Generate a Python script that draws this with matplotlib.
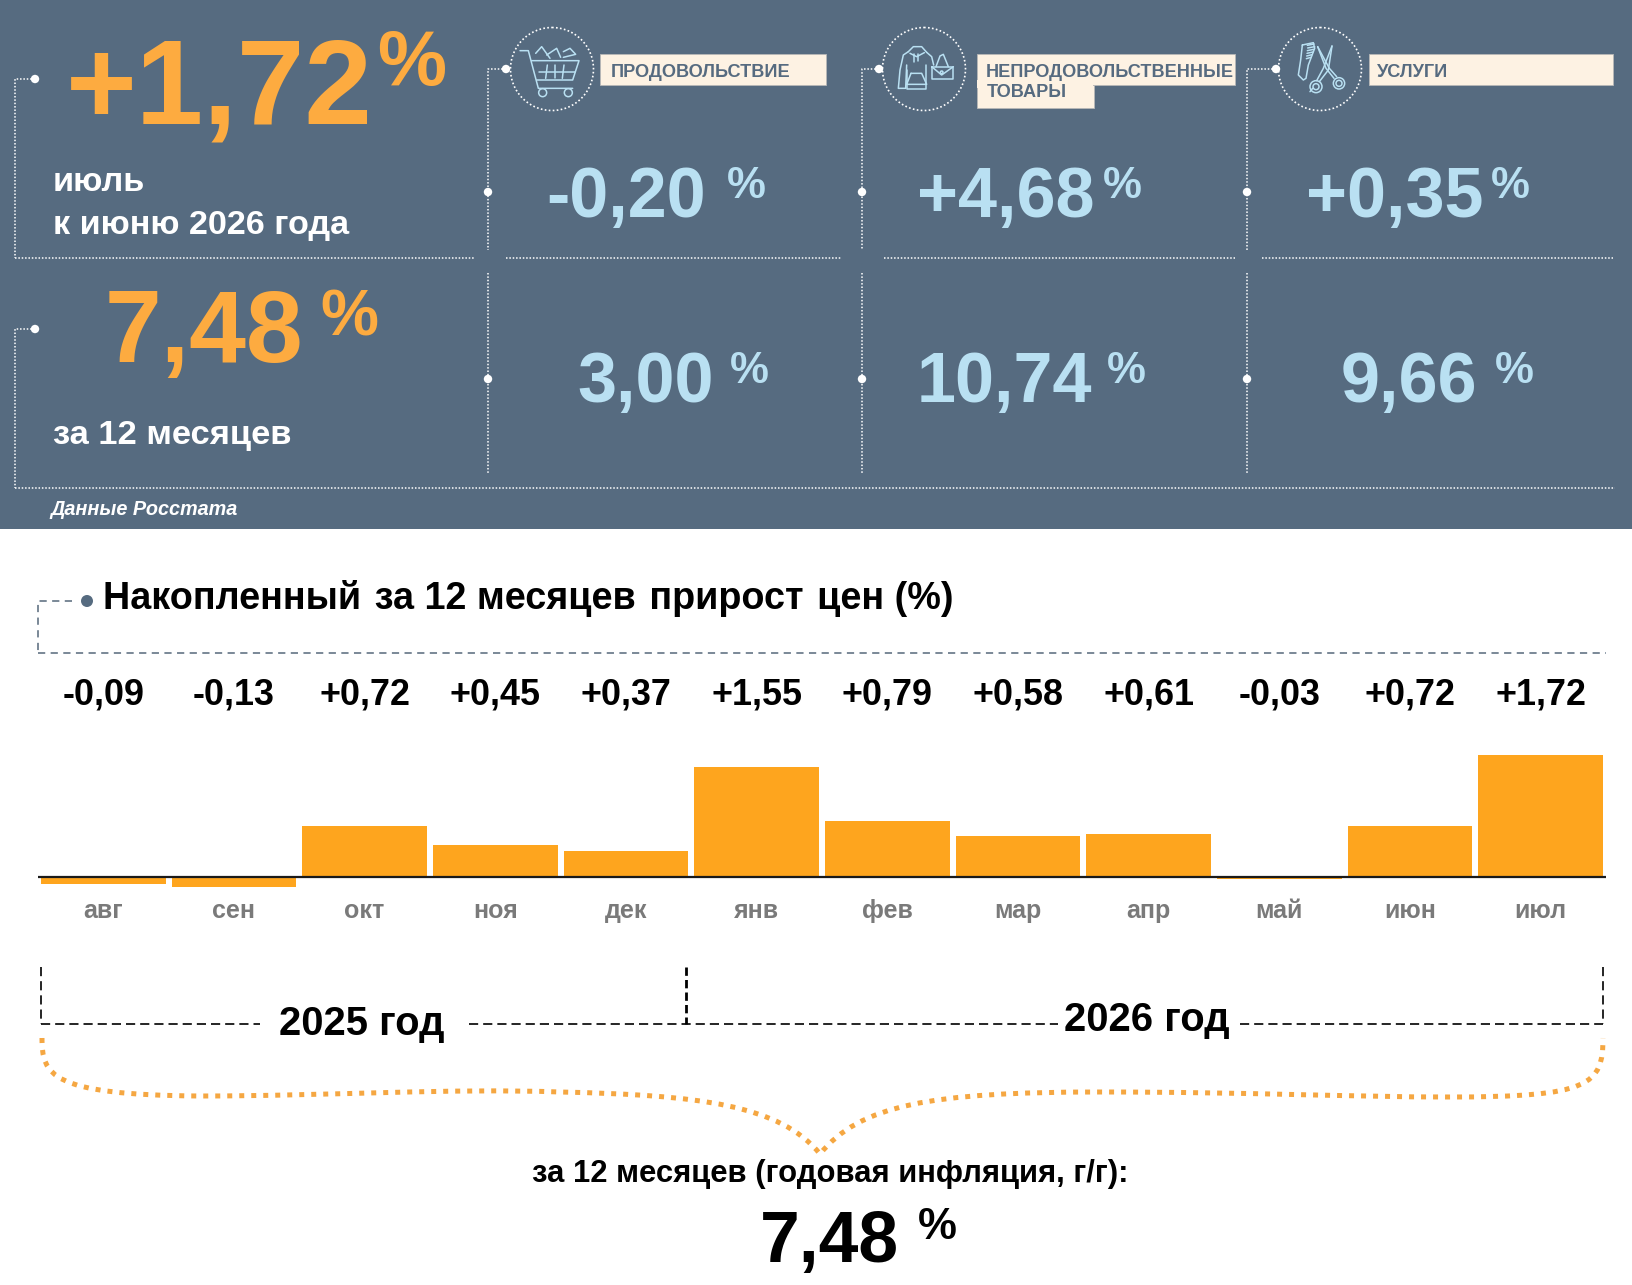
import matplotlib
matplotlib.use('Agg')
from matplotlib import pyplot as plt
from matplotlib.patches import Rectangle, Circle, PathPatch, Ellipse
from matplotlib.path import Path
from matplotlib.transforms import blended_transform_factory

plt.rcParams['font.family'] = ['Liberation Sans', 'DejaVu Sans']

W, H = 1633, 1285
SLATE = '#566b80'
ORANGE = '#fdab40'
LBLUE = '#b9e0f2'
CREAM = '#fdf2e3'
BAR = '#fea51e'

months = ['авг', 'сен', 'окт', 'ноя', 'дек', 'янв', 'фев', 'мар', 'апр', 'май', 'июн', 'июл']
values = [-0.09, -0.13, 0.72, 0.45, 0.37, 1.55, 0.79, 0.58, 0.61, -0.03, 0.72, 1.72]
value_labels = ['-0,09', '-0,13', '+0,72', '+0,45', '+0,37', '+1,55', '+0,79', '+0,58', '+0,61', '-0,03', '+0,72', '+1,72']

category_names = ['ПРОДОВОЛЬСТВИЕ', 'НЕПРОДОВОЛЬСТВЕННЫЕ', 'УСЛУГИ']
month_change = ['-0,20', '+4,68', '+0,35']
year_change = ['3,00', '10,74', '9,66']

fig = plt.figure(figsize=(W / 100, H / 100), dpi=100, facecolor='white')
ov = fig.add_axes([0, 0, 1, 1])
ov.set_xlim(0, W)
ov.set_ylim(H, 0)
ov.axis('off')


def t(x, y, s, size, color='black', ha='left', weight='bold', **kw):
    return ov.text(x, y, s, fontsize=size, color=color, ha=ha, va='baseline', fontweight=weight, **kw)


def pct(x, y, size, color):
    return t(x, y, '%', size, color)


def dots(xs, ys, color='white', lw=1.1, ls=(0, (1, 1.2))):
    ov.plot(xs, ys, color=color, lw=lw, ls=ls, solid_capstyle='butt', dash_capstyle='butt')


def dot(x, y, r=4.2, color='white'):
    ov.add_patch(Circle((x, y), r, fc=color, ec='none', zorder=5))


def icon(ox, lines, rings):
    # coordinates are 3x pixels relative to the icon corner
    for pts in lines:
        ov.plot([ox + p[0] / 3 for p in pts], [20 + p[1] / 3 for p in pts], color=LBLUE, lw=1.1,
                solid_capstyle='round', solid_joinstyle='round', zorder=4)
    for cx, cy, r in rings:
        ov.add_patch(Circle((ox + cx / 3, 20 + cy / 3), r / 3, fc='none', ec=LBLUE, lw=1.1, zorder=4))


# top panel
ov.add_patch(Rectangle((0, 0), W, 529, fc=SLATE, ec='none', zorder=0))

t(66, 124, '+1,72', 87.3, ORANGE)
pct(377, 85, 56, ORANGE)
t(53, 191, 'июль', 24.7, 'white')
t(53, 234, 'к июню 2026 года', 24.6, 'white')
t(105, 362, '7,48', 73.5, ORANGE)
pct(320, 336, 47, ORANGE)
t(53, 444, 'за 12 месяцев', 24.8, 'white')
t(50, 515, 'Данные Росстата', 14.3, 'white', style='italic')

# left connectors
dots([35, 15, 15], [79, 79, 258])
dot(35, 79)
dots([35, 15, 15], [329, 329, 488])
dot(35, 329)
dots([15, 1615], [488, 488])
for a, b in [(15, 474), (506, 842), (884, 1235), (1262, 1613)]:
    dots([a, b], [258, 258])

cols = [488, 862, 1247]
dot_x = [506, 879, 1276]
circ_x = [552, 924, 1320]
for c, d, cx in zip(cols, dot_x, circ_x):
    dots([d, c, c], [69, 69, 250])
    dots([c, c], [273, 474])
    dot(d, 69)
    dot(c, 192)
    dot(c, 379)
    ov.add_patch(Ellipse((cx, 69), 83, 83, fc='none', ec='white', lw=1.2, ls=(0, (1, 1.4))))

# category boxes
ov.add_patch(Rectangle((600, 54), 226, 31, fc=CREAM, ec='#b8b8b8', lw=0.6))
ov.add_patch(Rectangle((977, 54), 258, 31, fc=CREAM, ec='#b8b8b8', lw=0.6))
ov.add_patch(Rectangle((977, 85), 117, 23, fc=CREAM, ec='#b8b8b8', lw=0.6))
ov.add_patch(Rectangle((977.5, 80), 116, 8, fc=CREAM, ec='none'))
ov.add_patch(Rectangle((1369, 54), 244, 31, fc=CREAM, ec='#b8b8b8', lw=0.6))
t(611, 77, category_names[0], 13.1, SLATE)
t(986, 77, category_names[1], 13.1, SLATE)
t(987, 97, 'ТОВАРЫ', 13.1, SLATE)
t(1377, 77, category_names[2], 13.1, SLATE)

# category figures
m_x = [546, 917, 1306]
m_p = [727, 1103, 1491]
for s, x, px in zip(month_change, m_x, m_p):
    t(x, 217, s, 50.5, LBLUE)
    pct(px, 198, 31.5, LBLUE)
y_x = [577, 917, 1341]
y_p = [730, 1107, 1495]
for s, x, px in zip(year_change, y_x, y_p):
    t(x, 402, s, 50.5, LBLUE)
    pct(px, 383, 31.5, LBLUE)

# icons
icon(500, [
    [(60, 92), (85, 92), (115, 205), (218, 205)],
    [(95, 122), (237, 122), (218, 180), (110, 180)],
    [(118, 155), (225, 155)],
    [(142, 135), (137, 175)], [(165, 135), (165, 175)], [(192, 135), (187, 175)],
    [(107, 100), (125, 80), (150, 115)],
    [(140, 105), (170, 85), (182, 112)],
    [(190, 95), (210, 85), (227, 103), (190, 112)],
], [(128, 218, 12), (205, 218, 12)])
icon(875, [
    [(100, 95), (85, 105), (75, 150), (70, 205), (92, 205), (95, 135)],
    [(155, 97), (170, 110), (176, 135)],
    [(95, 150), (95, 208), (152, 208), (152, 135)],
    [(100, 95), (115, 80), (140, 80), (155, 97)],
    [(105, 100), (125, 110), (148, 98)],
    [(118, 103), (118, 125)], [(130, 103), (130, 122)],
    [(108, 160), (140, 160), (155, 193), (95, 193), (108, 160)],
    [(170, 140), (235, 140), (235, 177), (170, 177), (170, 140)],
    [(170, 140), (200, 165), (235, 140)],
    [(183, 140), (195, 108), (205, 103), (220, 140)],
], [(200, 157, 4)])
icon(1270, [
    [(97, 75), (130, 68), (134, 85), (115, 135), (108, 175), (100, 180), (85, 165), (92, 120), (97, 75)],
    [(112, 76), (132, 72)], [(113, 84), (134, 80)], [(112, 92), (131, 88)],
    [(111, 100), (129, 96)], [(110, 108), (126, 104)], [(109, 116), (123, 112)],
    [(143, 80), (168, 145), (192, 175)], [(143, 80), (178, 145), (200, 170)],
    [(186, 78), (175, 150), (148, 185)], [(186, 78), (160, 145), (140, 182)],
    [(120, 215), (128, 205)],
], [(138, 200, 18), (138, 200, 9), (207, 190, 17), (207, 190, 9)])

# title
GD = '#6f7f8f'
dots([72, 38, 38], [601, 601, 653], color=GD, lw=1.3, ls=(0, (4, 3)))
dots([38, 1606], [653, 653], color=GD, lw=1.3, ls=(0, (4, 3)))
dot(87, 601, 6, SLATE)
t(103, 609, 'Накопленный\u200a за 12 месяцев\u200a прирост\u200a цен (%)', 27.2, 'black')

# bar chart
left, right = 37.9, 1606
base_px, px_per = 877.3, 71.0
ymin, ymax = -0.3, 1.9
top_px = base_px - ymax * px_per
bot_px = base_px - ymin * px_per
ax = fig.add_axes([left / W, 1 - bot_px / H, (right - left) / W, (bot_px - top_px) / H])
ax.patch.set_alpha(0)
ax.axis('off')
ax.bar(range(12), values, width=0.955, color=BAR, linewidth=0)
ax.axhline(0, color='#1a1a1a', lw=1.6)
ax.set_xlim(-0.5, 11.5)
ax.set_ylim(ymin, ymax)
tr = blended_transform_factory(ax.transData, ov.transData)
for i in range(12):
    ax.text(i, 704, value_labels[i], transform=tr, ha='center', va='baseline', fontsize=25.8,
            fontweight='bold', color='black', clip_on=False)
    ax.text(i, 918, months[i], transform=tr, ha='center', va='baseline', fontsize=18,
            fontweight='bold', color='#7a7a7a', clip_on=False)

# years
bd = dict(color='black', lw=1.2, ls=(0, (5.5, 3)))
dots([41, 41], [967, 1024], **bd)
dots([686, 686], [967, 1024], color='black', lw=2, ls=(0, (3, 1.5)))
dots([1603, 1603], [967, 1024], **bd)
dots([41, 260], [1024, 1024], **bd)
dots([469, 1058], [1024, 1024], **bd)
dots([1240, 1603], [1024, 1024], **bd)
t(279, 1035, '2025 год', 28.8)
t(1064, 1031, '2026 год', 28.8)

# brace
verts = [(42, 1038), (42, 1075), (50, 1095), (200, 1096),
         (330, 1096), (450, 1088), (560, 1092),
         (700, 1095), (780, 1105), (820, 1154),
         (860, 1105), (930, 1092), (1100, 1092),
         (1250, 1092), (1350, 1097), (1450, 1097),
         (1590, 1097), (1603, 1085), (1603, 1038)]
codes = [Path.MOVETO] + [Path.CURVE4] * 18
ov.add_patch(PathPatch(Path(verts, codes), fc='none', ec='#f5a742', lw=3.6, ls=(0, (1, 1.4)), capstyle='butt'))

t(830, 1182, 'за 12 месяцев (годовая инфляция, г/г):', 22.3, ha='center')
t(760, 1262, '7,48', 51.5)
pct(918, 1239, 31.5, 'black')

plt.savefig('out.png', dpi=100)
